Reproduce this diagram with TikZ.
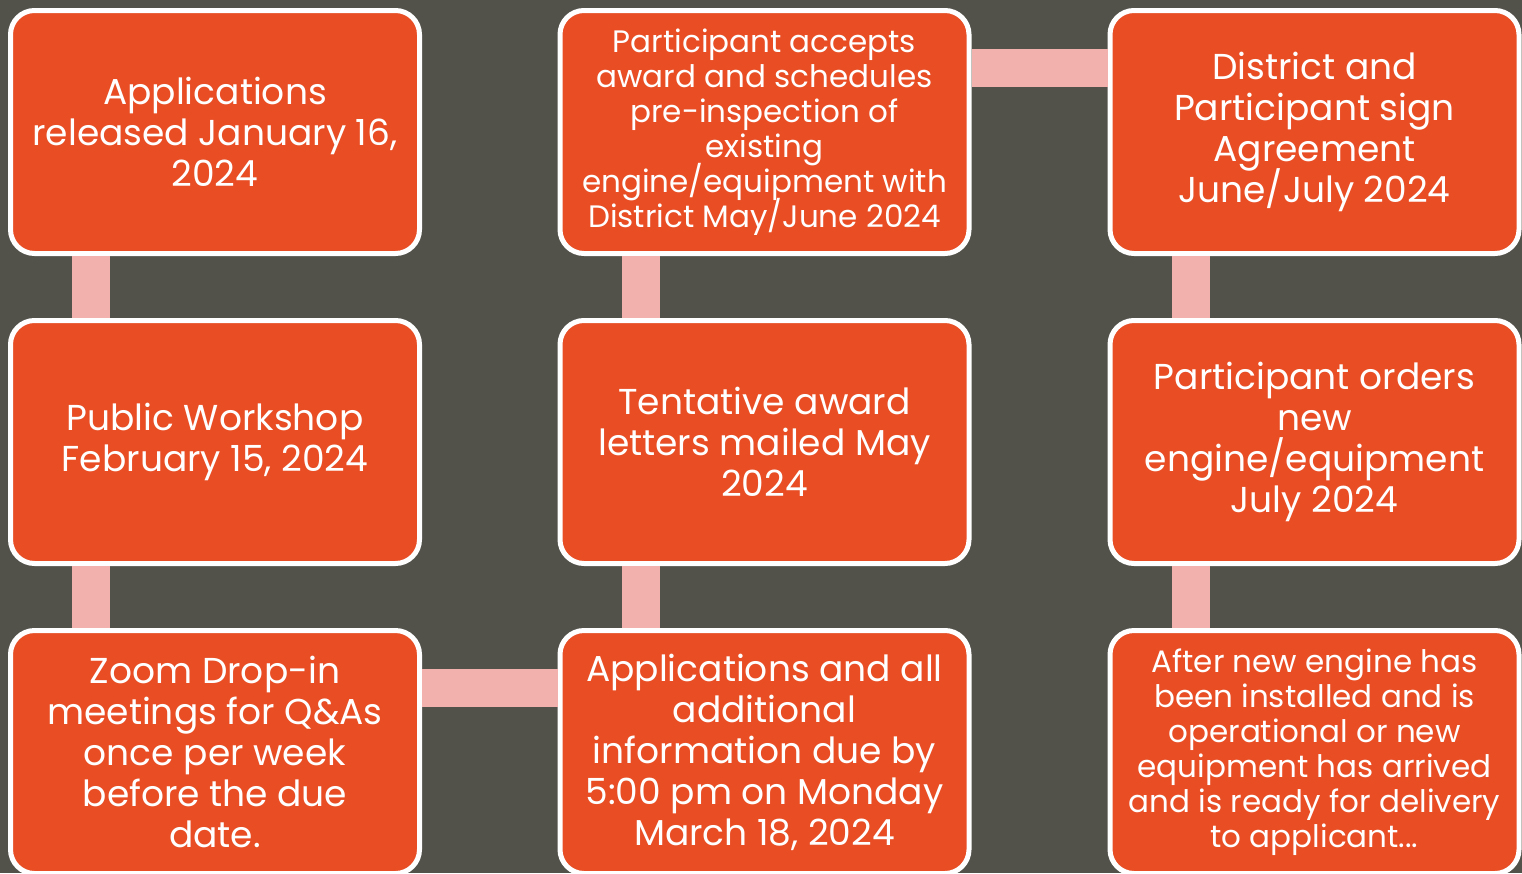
\documentclass[tikz,border=0pt]{standalone}
\usepackage{fontspec}
\setmainfont{Poppins}
\definecolor{bg}{HTML}{52514A}
\definecolor{boxfill}{HTML}{E84D24}
\definecolor{link}{HTML}{F2B1AD}
\newcommand\mytightlines{\setlength{\lineskiplimit}{-60pt}\setlength{\lineskip}{0pt}}
\begin{document}
\begin{tikzpicture}[x=1pt,y=-1pt,
  stepbox/.style={draw=white, line width=5pt, fill=boxfill, rounded corners=24pt,
    minimum width=409pt, minimum height=243pt, align=center, text=white,
    font={\fontsize{36}{41}\selectfont\mytightlines}, inner sep=0pt},
  smalltext/.style={font={\fontsize{31}{35}\selectfont\mytightlines}},
  conn/.style={link, line width=38pt}]
\useasboundingbox (0,0) rectangle (1522,873);
\clip (0,0) rectangle (1522,873);
\fill[bg] (0,0) rectangle (1522,873);
\node[stepbox] (b1) at (215,132) {Applications\\released January 16,\\2024};
\node[stepbox] (b2) at (215,442) {Public Workshop\\February 15, 2024};
\node[stepbox] (b3) at (215,752) {Zoom Drop-in\\meetings for Q\&As\\once per week\\before the due\\date.};
\node[stepbox] (b4) at (764.5,752) {Applications and all\\additional\\information due by\\5:00 pm on Monday\\March 18, 2024};
\node[stepbox] (b5) at (764.5,442) {Tentative award\\letters mailed May\\2024};
\node[stepbox, smalltext] (b6) at (764.5,132) {Participant accepts\\award and schedules\\pre-inspection of\\existing\\engine/equipment with\\District May/June 2024};
\node[stepbox] (b7) at (1314.5,132) {District and\\Participant sign\\Agreement\\June/July 2024};
\node[stepbox] (b8) at (1314.5,442) {Participant orders\\new\\engine/equipment\\July 2024};
\node[stepbox, smalltext] (b9) at (1314.5,752) {After new engine has\\been installed and is\\operational or new\\equipment has arrived\\and is ready for delivery\\to applicant...};
\draw[conn] ([xshift=-124pt]b1.south) -- ([xshift=-124pt]b2.north);
\draw[conn] ([xshift=-124pt]b2.south) -- ([xshift=-124pt]b3.north);
\draw[conn] ([yshift=64pt]b3.east) -- ([yshift=64pt]b4.west);
\draw[conn] ([xshift=-124pt]b4.north) -- ([xshift=-124pt]b5.south);
\draw[conn] ([xshift=-124pt]b5.north) -- ([xshift=-124pt]b6.south);
\draw[conn] ([yshift=64pt]b6.east) -- ([yshift=64pt]b7.west);
\draw[conn] ([xshift=-124pt]b7.south) -- ([xshift=-124pt]b8.north);
\draw[conn] ([xshift=-124pt]b8.south) -- ([xshift=-124pt]b9.north);
\end{tikzpicture}
\end{document}
